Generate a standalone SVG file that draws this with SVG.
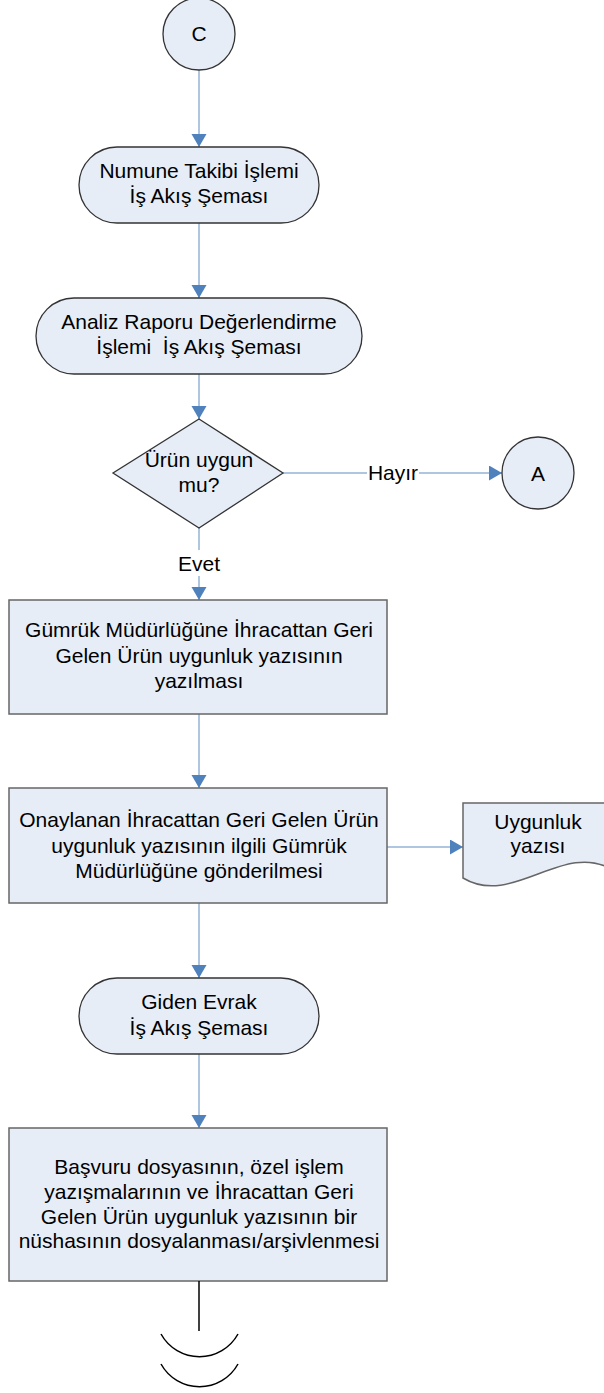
<svg xmlns="http://www.w3.org/2000/svg" width="604" height="1393" viewBox="0 0 604 1393">
<style>
.shape{fill:#E6EDF7;stroke:#333;stroke-width:1.3}
.box{fill:#E6EDF7;stroke:#666;stroke-width:1.5}
.conn{stroke:#95B3D7;stroke-width:1.5;fill:none}
.end{stroke:#000;stroke-width:1.5;fill:none}
text{font-family:"Liberation Sans",Arial,sans-serif;font-size:21px;fill:#000;text-anchor:middle}
</style>
<defs>
<marker id="arr" markerUnits="userSpaceOnUse" markerWidth="14" markerHeight="16" refX="13" refY="7.5" orient="auto">
<path d="M0,0 L13,7.5 L0,15 z" fill="#4F81BD"/>
</marker>
</defs>
<rect width="604" height="1393" fill="#fff"/>
<g id="connectors">
<line class="conn" x1="199" y1="70" x2="199" y2="147" marker-end="url(#arr)"/>
<line class="conn" x1="199" y1="223" x2="199" y2="298" marker-end="url(#arr)"/>
<line class="conn" x1="199" y1="374" x2="199" y2="419" marker-end="url(#arr)"/>
<line class="conn" x1="283" y1="473" x2="502" y2="473" marker-end="url(#arr)"/>
<rect x="367" y="462" width="52" height="22" fill="#fff"/>
<text x="393" y="480">Hayır</text>
<line class="conn" x1="199" y1="528" x2="199" y2="600" marker-end="url(#arr)"/>
<rect x="174" y="550" width="50" height="26" fill="#fff"/>
<text x="199" y="571">Evet</text>
<line class="conn" x1="199" y1="714" x2="199" y2="788" marker-end="url(#arr)"/>
<line class="conn" x1="387" y1="847" x2="463" y2="847" marker-end="url(#arr)"/>
<line class="conn" x1="199" y1="903" x2="199" y2="978" marker-end="url(#arr)"/>
<line class="conn" x1="199" y1="1054" x2="199" y2="1128" marker-end="url(#arr)"/>
</g>
<g id="nodeC">
<circle class="shape" cx="199" cy="34" r="36"/>
<text x="199" y="41">C</text>
</g>
<g id="numuneTakibi">
<rect class="shape" x="79" y="147" width="240" height="76" rx="38" ry="38"/>
<text x="199" y="178">Numune Takibi İşlemi</text>
<text x="199" y="203">İş Akış Şeması</text>
</g>
<g id="analizRaporu">
<rect class="shape" x="36" y="298" width="326" height="76" rx="38" ry="38"/>
<text x="199" y="329">Analiz Raporu Değerlendirme</text>
<text x="199" y="354" xml:space="preserve">İşlemi  İş Akış Şeması</text>
</g>
<g id="decision">
<polygon class="shape" points="199,419 283,473 199,528 113,473"/>
<text x="199" y="467">Ürün uygun</text>
<text x="199" y="492">mu?</text>
</g>
<g id="nodeA">
<circle class="shape" cx="538" cy="473" r="36"/>
<text x="538" y="481">A</text>
</g>
<g id="uygunlukYazisiYazilmasi">
<rect class="box" x="9" y="600" width="378" height="114"/>
<text x="199" y="637">Gümrük Müdürlüğüne İhracattan Geri</text>
<text x="199" y="663">Gelen Ürün uygunluk yazısının</text>
<text x="199" y="688">yazılması</text>
</g>
<g id="gonderilmesi">
<rect class="box" x="9" y="788" width="378" height="115"/>
<text x="199" y="827">Onaylanan İhracattan Geri Gelen Ürün</text>
<text x="199" y="853">uygunluk yazısının ilgili Gümrük</text>
<text x="199" y="878">Müdürlüğüne gönderilmesi</text>
</g>
<g id="uygunlukDoc">
<path class="box" d="M463,803 L613,803 L613,870 C563,840 513,908 463,878 Z"/>
<text x="538" y="829">Uygunluk</text>
<text x="538" y="853">yazısı</text>
</g>
<g id="gidenEvrak">
<rect class="shape" x="79" y="978" width="240" height="76" rx="38" ry="38"/>
<text x="199" y="1009">Giden Evrak</text>
<text x="199" y="1035">İş Akış Şeması</text>
</g>
<g id="arsivleme">
<rect class="box" x="9" y="1128" width="378" height="153"/>
<text x="199" y="1174">Başvuru dosyasının, özel işlem</text>
<text x="199" y="1199">yazışmalarının ve İhracattan Geri</text>
<text x="199" y="1224">Gelen Ürün uygunluk yazısının bir</text>
<text x="199" y="1248">nüshasının dosyalanması/arşivlenmesi</text>
</g>
<g id="end">
<line class="end" x1="199" y1="1281" x2="199" y2="1331"/>
<path class="end" d="M161,1334 A44,44 0 0 0 238,1334"/>
<path class="end" d="M161,1364 A44,44 0 0 0 238,1364"/>
</g>
</svg>
